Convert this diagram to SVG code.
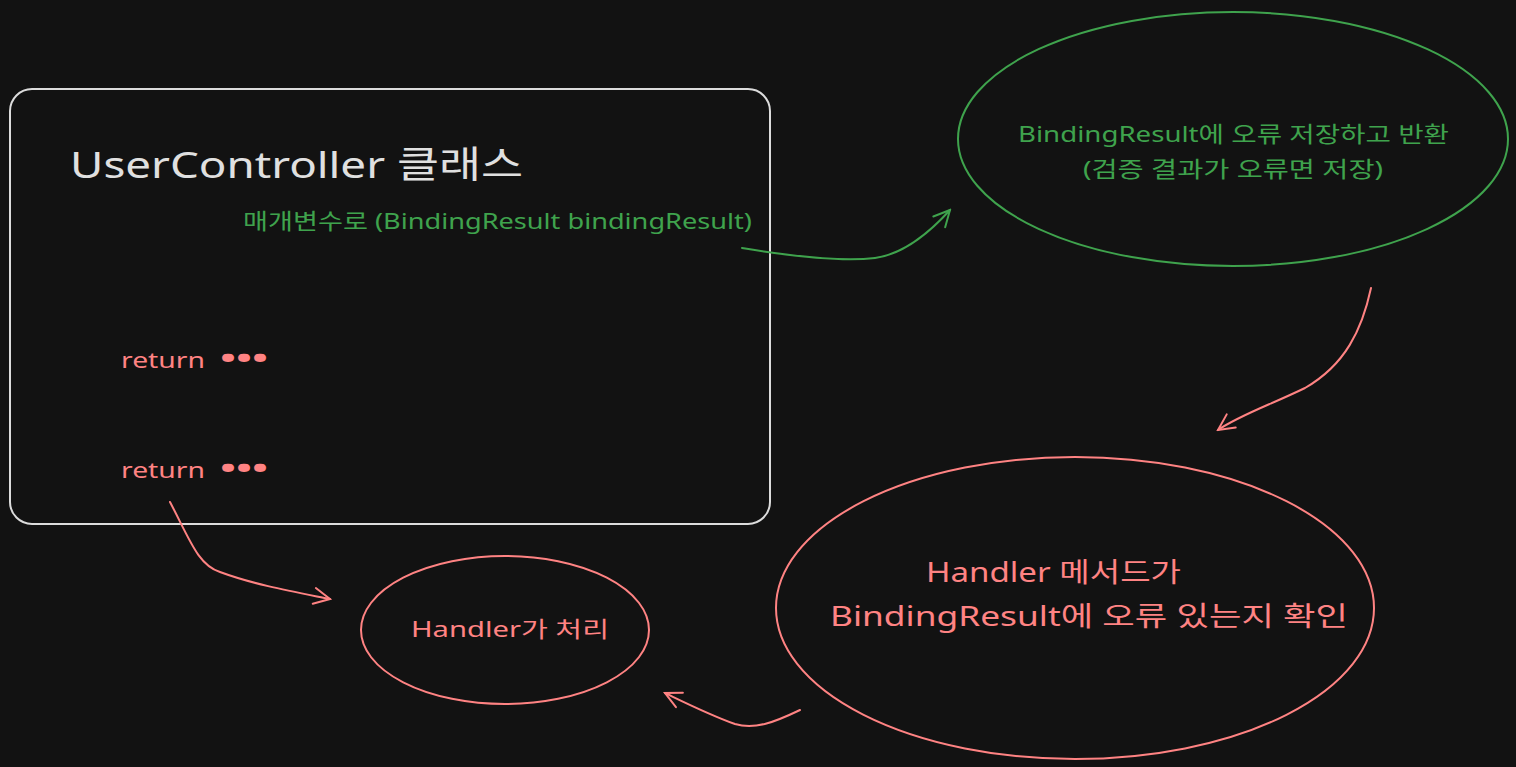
<svg xmlns="http://www.w3.org/2000/svg" width="1516" height="767" viewBox="0 0 1516 767">
<defs>
<style>
.t{font-family:"Noto Sans","Noto Sans CJK KR",sans-serif}
.g{fill:#3fa34d}
.r{fill:#ff8383}
.w{fill:#e0e0e0}
.edge{fill:none;stroke-width:2;stroke-linecap:round}
</style>
<marker id="ag" viewBox="0 0 20 20" refX="18" refY="10" markerWidth="20" markerHeight="20" markerUnits="userSpaceOnUse" orient="auto">
<path d="M2,2 L18,10 L2,18" fill="none" stroke="#3fa34d" stroke-width="2" stroke-linecap="round"/>
</marker>
<marker id="ar" viewBox="0 0 20 20" refX="18" refY="10" markerWidth="20" markerHeight="20" markerUnits="userSpaceOnUse" orient="auto">
<path d="M2,2 L18,10 L2,18" fill="none" stroke="#ff8383" stroke-width="2" stroke-linecap="round"/>
</marker>
</defs>
<rect width="1516" height="767" fill="#121212"/>
<g id="controller">
<rect x="10" y="89" width="760" height="435" rx="22" fill="none" stroke="#dcdcdc" stroke-width="2"/>
<text class="t w" x="70" y="178" font-size="37" textLength="453" lengthAdjust="spacingAndGlyphs">UserController 클래스</text>
<text class="t g" x="243" y="229" font-size="22" textLength="509" lengthAdjust="spacingAndGlyphs">매개변수로 (BindingResult bindingResult)</text>
<text class="t r" x="121" y="368" font-size="22"><tspan textLength="84" lengthAdjust="spacingAndGlyphs">return</tspan><tspan x="220" font-size="26" font-weight="bold" textLength="48" lengthAdjust="spacingAndGlyphs">•••</tspan></text>
<text class="t r" x="121" y="478" font-size="22"><tspan textLength="84" lengthAdjust="spacingAndGlyphs">return</tspan><tspan x="220" font-size="26" font-weight="bold" textLength="48" lengthAdjust="spacingAndGlyphs">•••</tspan></text>
</g>
<g id="store">
<ellipse cx="1233" cy="139" rx="275" ry="127" fill="none" stroke="#3fa34d" stroke-width="2"/>
<text class="t g" x="1018" y="142" font-size="22" textLength="431" lengthAdjust="spacingAndGlyphs">BindingResult에 오류 저장하고 반환</text>
<text class="t g" x="1083" y="177" font-size="22" textLength="300" lengthAdjust="spacingAndGlyphs">(검증 결과가 오류면 저장)</text>
</g>
<g id="check">
<ellipse cx="1075" cy="608" rx="299" ry="151" fill="none" stroke="#ff8383" stroke-width="2"/>
<text class="t r" x="926" y="582" font-size="27" textLength="255" lengthAdjust="spacingAndGlyphs">Handler 메서드가</text>
<text class="t r" x="830" y="626" font-size="27" textLength="518" lengthAdjust="spacingAndGlyphs">BindingResult에 오류 있는지 확인</text>
</g>
<g id="handle">
<ellipse cx="505" cy="630" rx="144" ry="74" fill="none" stroke="#ff8383" stroke-width="2"/>
<text class="t r" x="411" y="637" font-size="22" textLength="198" lengthAdjust="spacingAndGlyphs">Handler가 처리</text>
</g>
<g id="connectors">
<path class="edge" stroke="#3fa34d" marker-end="url(#ag)" d="M742 248 C790 256 840 262 875 258 C905 254 930 232 950 210"/>
<path class="edge" stroke="#ff8383" marker-end="url(#ar)" d="M1371 288 C1362 330 1345 365 1305 388 C1270 405 1240 415 1218 430"/>
<path class="edge" stroke="#ff8383" marker-end="url(#ar)" d="M170 502 C190 540 198 565 220 572 C255 585 295 592 330 599"/>
<path class="edge" stroke="#ff8383" marker-end="url(#ar)" d="M800 710 C775 722 755 730 735 724 C710 715 690 705 665 693"/>
</g>
</svg>
